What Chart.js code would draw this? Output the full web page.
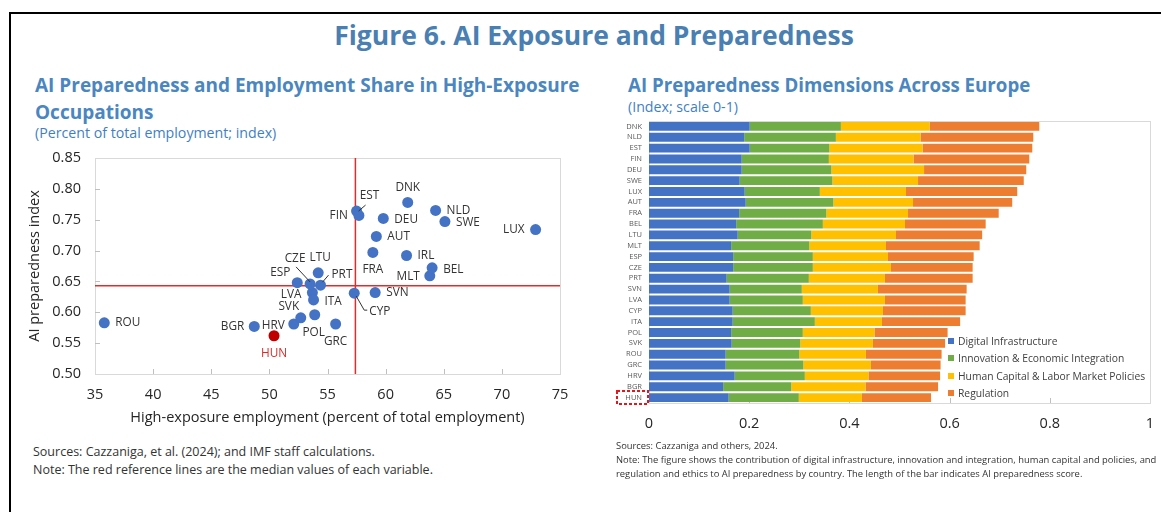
<!DOCTYPE html>
<html>
<head>
<meta charset="utf-8">
<script src="https://cdn.jsdelivr.net/npm/chart.js@4.4.1/dist/chart.umd.min.js"></script>
<style>
  body { margin: 0; width: 1161px; height: 512px; background: #fff; position: relative; overflow: hidden; font-family: "Open Sans", sans-serif; }
  .frame { position: absolute; left: 9px; top: 12px; width: 1200px; height: 600px; border-top: 2px solid #000; border-left: 2px solid #000; }
  .txt { position: absolute; white-space: nowrap; }
  #mainTitle { left: 0; width: 1188px; top: 19px; text-align: center; font-weight: 700; font-size: 26.5px; line-height: 32px; color: #4a7fb2; }
  .panelTitle { font-weight: 700; font-size: 19px; line-height: 24px; color: #4a86c0; }
  .panelSub { font-size: 14.2px; line-height: 18px; color: #3f7fc4; }
  .noteL { font-size: 12.5px; line-height: 15px; color: #333; left: 33px; }
  .noteR { font-size: 9.4px; line-height: 12px; color: #333; left: 616px; }
  #scatterWrap { position: absolute; left: 20px; top: 145px; }
  #barWrap { position: absolute; left: 600px; top: 115px; }
  #legend { position: absolute; left: 948px; top: 332px; }
  .legItem { height: 17.5px; display: flex; align-items: center; font-size: 10.3px; color: #404040; white-space: nowrap; }
  .legItem span.box { width: 6px; height: 6px; margin-right: 4px; display: inline-block; }
</style>
</head>
<body>
<div class="frame"></div>
<div id="mainTitle" class="txt">Figure 6. AI Exposure and Preparedness</div>

<div class="txt panelTitle" style="left:35px; top:73px;">AI Preparedness and Employment Share in High-Exposure</div>
<div class="txt panelTitle" style="left:35px; top:100px;">Occupations</div>
<div class="txt panelSub" style="left:35px; top:124px;">(Percent of total employment; index)</div>

<div class="txt panelTitle" style="left:628px; top:73px; font-size:18.7px;">AI Preparedness Dimensions Across Europe</div>
<div class="txt panelSub" style="left:628px; top:98px;">(Index; scale 0-1)</div>

<div id="scatterWrap"><canvas id="scatterChart" width="560" height="290"></canvas></div>
<div id="barWrap"><canvas id="barChart" width="561" height="325"></canvas></div>
<div id="legend"></div>

<div class="txt noteL" style="top:444px;">Sources: Cazzaniga, et al. (2024); and IMF staff calculations.</div>
<div class="txt noteL" style="top:462px;">Note: The red reference lines are the median values of each variable.</div>

<div class="txt noteR" style="top:440px;">Sources: Cazzaniga and others, 2024.</div>
<div class="txt noteR" style="top:454px;">Note: The figure shows the contribution of digital infrastructure, innovation and integration, human capital and policies, and</div>
<div class="txt noteR" style="top:468px;">regulation and ethics to AI preparedness by country. The length of the bar indicates AI preparedness score.</div>

<script>
// ---- Left panel data: exposure (x) vs preparedness (y) ----
const countries = ['ROU','BGR','HRV','HUN','SVK','POL','ESP','LVA','ITA','CZE','LTU','PRT','GRC','CYP','SVN',
                   'EST','FIN','FRA','AUT','DEU','DNK','IRL','MLT','BEL','NLD','SWE','LUX'];
const exposure = [35.8, 48.7, 52.1, 50.4, 52.7, 53.9, 52.4, 53.7, 53.8, 53.5, 54.2, 54.4, 55.7, 57.3, 59.1,
                  57.5, 57.7, 58.9, 59.2, 59.8, 61.9, 61.8, 63.8, 64.0, 64.3, 65.1, 72.9];
const preparedness = [0.583, 0.577, 0.581, 0.562, 0.591, 0.596, 0.648, 0.632, 0.620, 0.646, 0.664, 0.644, 0.581, 0.631, 0.632,
                      0.764, 0.757, 0.697, 0.723, 0.752, 0.778, 0.692, 0.659, 0.672, 0.765, 0.747, 0.734];
const medianExposure = 57.4;
const medianPreparedness = 0.643;
const highlight = 'HUN';

// ---- Right panel data: preparedness dimensions ----
const barCountries = ['DNK','NLD','EST','FIN','DEU','SWE','LUX','AUT','FRA','BEL','LTU','MLT','ESP',
                      'CZE','PRT','SVN','LVA','CYP','ITA','POL','SVK','ROU','GRC','HRV','BGR','HUN'];
const dimensionNames = ['Digital Infrastructure','Innovation & Economic Integration','Human Capital & Labor Market Policies','Regulation'];
const digitalInfra = [0.201,0.190,0.201,0.185,0.185,0.181,0.191,0.193,0.180,0.174,0.177,0.164,0.168,
                      0.168,0.155,0.161,0.161,0.167,0.167,0.164,0.165,0.153,0.153,0.171,0.148,0.159];
const innovation = [0.182,0.183,0.159,0.174,0.179,0.185,0.150,0.175,0.174,0.173,0.147,0.156,0.159,
                    0.159,0.164,0.144,0.146,0.156,0.164,0.143,0.137,0.147,0.155,0.140,0.136,0.140];
const humanCapital = [0.177,0.169,0.186,0.169,0.185,0.171,0.172,0.159,0.163,0.164,0.169,0.153,0.150,
                      0.156,0.152,0.152,0.164,0.144,0.134,0.143,0.145,0.133,0.135,0.127,0.148,0.126];
const regulation = [0.219,0.225,0.219,0.231,0.204,0.211,0.222,0.198,0.181,0.161,0.172,0.187,0.171,
                    0.163,0.175,0.177,0.161,0.165,0.156,0.146,0.144,0.151,0.139,0.143,0.145,0.138];
const dimensionColors = ['#4472c4','#70ad47','#ffc000','#ed7d31'];

// label placement for scatter points: dx, dy (px from point), alignment, optional leader line
const labelPlacement = {
  ROU: [11, 0, 'left'], BGR: [-10, 0, 'right'], HRV: [-9, 2, 'right'], HUN: [0, 18, 'center'],
  SVK: [-12, -11, 'center'], POL: [-1, 18, 'center'], ESP: [-7, -10, 'right'], LVA: [-11, 2, 'right'],
  ITA: [11, 2, 'left'], CZE: [-15, -25, 'center', [[-14, -17], [0, -2]]], LTU: [2, -15, 'center'],
  PRT: [11, -10, 'left', [[8, -10], [2, -3]]], GRC: [0, 18, 'center'],
  CYP: [15, 18, 'left', [[2, 3], [10, 17], [13, 17]]], SVN: [11, 0, 'left'],
  EST: [13, -15, 'center', [[9, -6], [2, 0]]], FIN: [-11, 0, 'right'], FRA: [0, 17, 'center'],
  AUT: [11, 0, 'left'], DEU: [11, 1, 'left'], DNK: [0, -15, 'center'], IRL: [11, 0, 'left'],
  MLT: [-10, 1, 'right'], BEL: [11, 2, 'left'], NLD: [11, 0, 'left'], SWE: [11, 1, 'left'], LUX: [-11, 0, 'right']
};

const FONT = '"Open Sans", sans-serif';
Chart.defaults.font.family = FONT;
Chart.defaults.color = '#262626';

// draws the plot box and inward tick marks
function frameAndTicks(xTicks, yTicks) {
  return {
    id: 'frameAndTicks',
    beforeDatasetsDraw(chart) {
      const { ctx, chartArea: a, scales } = chart;
      ctx.save();
      ctx.strokeStyle = '#d9d9d9';
      ctx.lineWidth = 1;
      ctx.strokeRect(Math.round(a.left) + 0.5, Math.round(a.top) + 0.5, Math.round(a.right - a.left), Math.round(a.bottom - a.top));
      ctx.strokeStyle = '#bfbfbf';
      ctx.beginPath();
      xTicks.forEach(v => {
        const x = Math.round(scales.x.getPixelForValue(v)) + 0.5;
        ctx.moveTo(x, a.bottom); ctx.lineTo(x, a.bottom - 5);
      });
      yTicks.forEach(v => {
        const y = Math.round(scales.y.getPixelForValue(v)) + 0.5;
        ctx.moveTo(a.left, y); ctx.lineTo(a.left + 5, y);
      });
      ctx.stroke();
      ctx.restore();
    }
  };
}

const medianLines = {
  id: 'medianLines',
  beforeDatasetsDraw(chart) {
    const { ctx, chartArea: a, scales } = chart;
    const x = scales.x.getPixelForValue(medianExposure);
    const y = scales.y.getPixelForValue(medianPreparedness);
    ctx.save();
    ctx.strokeStyle = '#e52a2a';
    ctx.lineWidth = 1.5;
    ctx.beginPath();
    ctx.moveTo(x, a.top); ctx.lineTo(x, a.bottom);
    ctx.moveTo(a.left, y); ctx.lineTo(a.right, y);
    ctx.stroke();
    ctx.restore();
  }
};

const pointLabels = {
  id: 'pointLabels',
  afterDatasetsDraw(chart) {
    const { ctx } = chart;
    const pts = chart.getDatasetMeta(0).data;
    ctx.save();
    ctx.font = '11.8px ' + FONT;
    ctx.textBaseline = 'middle';
    countries.forEach((c, i) => {
      const p = labelPlacement[c];
      const px = pts[i].x, py = pts[i].y;
      if (p[3]) {
        ctx.strokeStyle = '#333';
        ctx.lineWidth = 1;
        ctx.beginPath();
        p[3].forEach((q, k) => k ? ctx.lineTo(px + q[0], py + q[1]) : ctx.moveTo(px + q[0], py + q[1]));
        ctx.stroke();
      }
      ctx.fillStyle = c === highlight ? '#d92b2b' : '#333';
      ctx.textAlign = p[2];
      ctx.fillText(c, px + p[0], py + p[1]);
    });
    ctx.restore();
  }
};

// hidden tick marks (grid off) give label offset without adding scale padding
new Chart(document.getElementById('scatterChart').getContext('2d'), {
  type: 'scatter',
  data: {
    datasets: [{
      data: countries.map((c, i) => ({ x: exposure[i], y: preparedness[i] })),
      backgroundColor: countries.map(c => c === highlight ? '#c00000' : '#4472c4'),
      pointRadius: 5.5,
      pointBorderWidth: 0
    }]
  },
  options: {
    responsive: false,
    animation: false,
    layout: { padding: { top: 13, right: 20, left: 0, bottom: 0 } },
    plugins: { legend: { display: false }, tooltip: { enabled: false } },
    scales: {
      x: {
        type: 'linear', min: 35, max: 75,
        ticks: { stepSize: 5, font: { size: 14.5 }, padding: 0, color: '#262626' },
        grid: { display: false, drawTicks: true, tickLength: 12 },
        border: { display: false },
        title: { display: true, text: 'High-exposure employment (percent of total employment)', font: { size: 14.5 }, color: '#262626', padding: 8 },
        afterFit(s) { s.height = 61; }
      },
      y: {
        min: 0.5, max: 0.85,
        ticks: { stepSize: 0.05, font: { size: 14.5 }, padding: 0, color: '#262626', callback: v => v.toFixed(2) },
        grid: { display: false, drawTicks: true, tickLength: 14 },
        border: { display: false },
        title: { display: true, text: 'AI preparedness index', font: { size: 14.5 }, color: '#262626', padding: 6 },
        afterFit(s) { s.width = 75; }
      }
    }
  },
  plugins: [frameAndTicks([40, 45, 50, 55, 60, 65, 70], [0.55, 0.6, 0.65, 0.7, 0.75, 0.8]), medianLines, pointLabels]
});

// red dashed box marking the highlighted country label
const highlightBox = {
  id: 'highlightBox',
  afterDraw(chart) {
    const { ctx, chartArea: a, scales } = chart;
    const y = scales.y.getPixelForValue(barCountries.indexOf(highlight));
    ctx.save();
    ctx.strokeStyle = '#e8141b';
    ctx.lineWidth = 2;
    ctx.setLineDash([3, 2]);
    ctx.strokeRect(a.left - 32, y - 6.5, 31, 13);
    ctx.restore();
  }
};

const barChart = new Chart(document.getElementById('barChart').getContext('2d'), {
  type: 'bar',
  data: {
    labels: barCountries,
    datasets: [digitalInfra, innovation, humanCapital, regulation].map((d, i) => ({
      label: dimensionNames[i],
      data: d,
      backgroundColor: dimensionColors[i],
      categoryPercentage: 0.82,
      barPercentage: 1
    }))
  },
  options: {
    indexAxis: 'y',
    responsive: false,
    animation: false,
    layout: { padding: { top: 6, right: 11, left: 0, bottom: 0 } },
    plugins: { legend: { display: false }, tooltip: { enabled: false } },
    scales: {
      x: {
        stacked: true, min: 0, max: 1,
        ticks: { stepSize: 0.2, font: { size: 14.5 }, padding: 0, color: '#262626', callback: v => String(+v.toFixed(1)) },
        grid: { display: false, drawTicks: true, tickLength: 12 },
        border: { display: false },
        afterFit(s) { s.height = 37; }
      },
      y: {
        stacked: true,
        ticks: { autoSkip: false, font: { size: 7.5 }, padding: 0, color: '#595959' },
        grid: { display: false, drawTicks: true, tickLength: 7 },
        border: { display: false },
        afterFit(s) { s.width = 49; }
      }
    }
  },
  plugins: [frameAndTicks([0.2, 0.4, 0.6, 0.8], []), highlightBox]
});

// legend built from the chart's own datasets
const legend = document.getElementById('legend');
barChart.data.datasets.forEach(ds => {
  const item = document.createElement('div');
  item.className = 'legItem';
  item.innerHTML = '<span class="box" style="background:' + ds.backgroundColor + '"></span>' + ds.label.replace(/&/g, '&amp;');
  legend.appendChild(item);
});
</script>
</body>
</html>
